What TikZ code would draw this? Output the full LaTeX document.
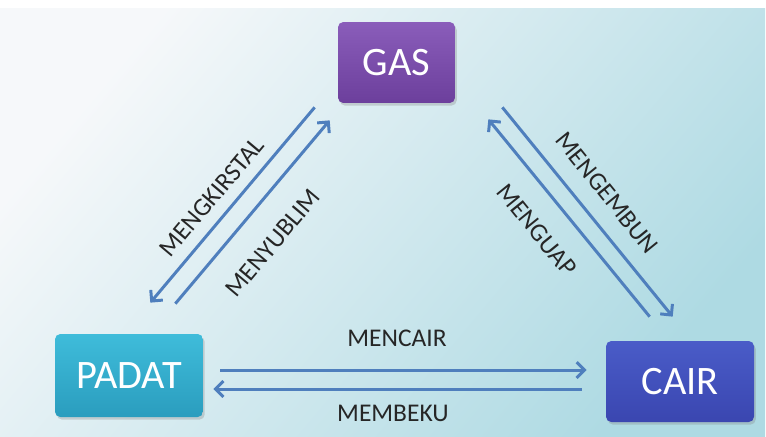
\documentclass[tikz,border=0pt]{standalone}
\usepackage{fontspec}
\setmainfont{Carlito}
\usepackage{tikz}
\usetikzlibrary{positioning,arrows.meta,shadows}

\definecolor{gasTop}{HTML}{8A5DBA}
\definecolor{gasBot}{HTML}{6C3F9C}
\definecolor{padatTop}{HTML}{3FBCDA}
\definecolor{padatBot}{HTML}{2A9DBE}
\definecolor{cairTop}{HTML}{4A5CC8}
\definecolor{cairBot}{HTML}{3A46B0}
\definecolor{flowBlue}{HTML}{4F7FBD}
\definecolor{bgLeft}{HTML}{F6F8FA}
\definecolor{bgMid}{HTML}{E3EEF2}
\definecolor{bgRight}{HTML}{AEDAE3}

\begin{document}
\begin{tikzpicture}[x=0.02cm, y=-0.02cm,
  every node/.style={font=\fontsize{14.5}{16}\selectfont},
  statebox/.style={rounded corners=3pt, text=white, font=\fontsize{23}{26}\selectfont,
    drop shadow={opacity=0.3, shadow xshift=1pt, shadow yshift=-1.5pt}},
  flow/.style={draw=flowBlue, line width=1.7pt, -{Straight Barb[length=4.5pt,width=9pt]}},
  proc/.style={text=black!85}]
  \useasboundingbox (0,0) rectangle (766,436);
  \fill[white] (0,0) rectangle (766,436);
  \fill[left color=bgLeft, middle color=bgMid, right color=bgRight, shading angle=50] (0,8) rectangle (765,436);

  \node[statebox, top color=gasTop, bottom color=gasBot, minimum width=2.34cm, minimum height=1.62cm] (gas) at (396.5,62.5) {GAS};
  \node[statebox, top color=padatTop, bottom color=padatBot, minimum width=2.96cm, minimum height=1.66cm] (padat) at (129,375.5) {PADAT};
  \node[statebox, top color=cairTop, bottom color=cairBot, minimum width=2.96cm, minimum height=1.62cm] (cair) at (680,381.5) {CAIR};

  % gas <-> padat
  \draw[flow] ([shift={(-23,4)}]gas.south west) -- ([shift={(-53,-31)}]padat.north east);
  \draw[flow] ([shift={(-28,-30)}]padat.north east) -- ([shift={(-8,17)}]gas.south west);
  % gas <-> cair
  \draw[flow] ([shift={(44,-24)}]cair.north west) -- ([shift={(33,16)}]gas.south east);
  \draw[flow] ([shift={(47,4)}]gas.south east) -- ([shift={(67,-24)}]cair.north west);
  % padat <-> cair
  \draw[flow] ([shift={(17,-5.5)}]padat.east) -- ([shift={(-19,-11.5)}]cair.west);
  \draw[flow] ([shift={(-24,7.5)}]cair.west) -- ([shift={(10,13.5)}]padat.east);

  \node[proc, rotate=50] (kristal) at (212,197) {MENGKIRSTAL};
  \node[proc, rotate=50] (sublim) at (273,243) {MENYUBLIM};
  \node[proc, rotate=-51] (embun) at (607,193) {MENGEMBUN};
  \node[proc, rotate=-51] (uap) at (537,230) {MENGUAP};
  \node[proc] (lebur) at (397,338) {MENCAIR};
  \node[proc] (beku) at (393,413) {MEMBEKU};
\end{tikzpicture}
\end{document}
